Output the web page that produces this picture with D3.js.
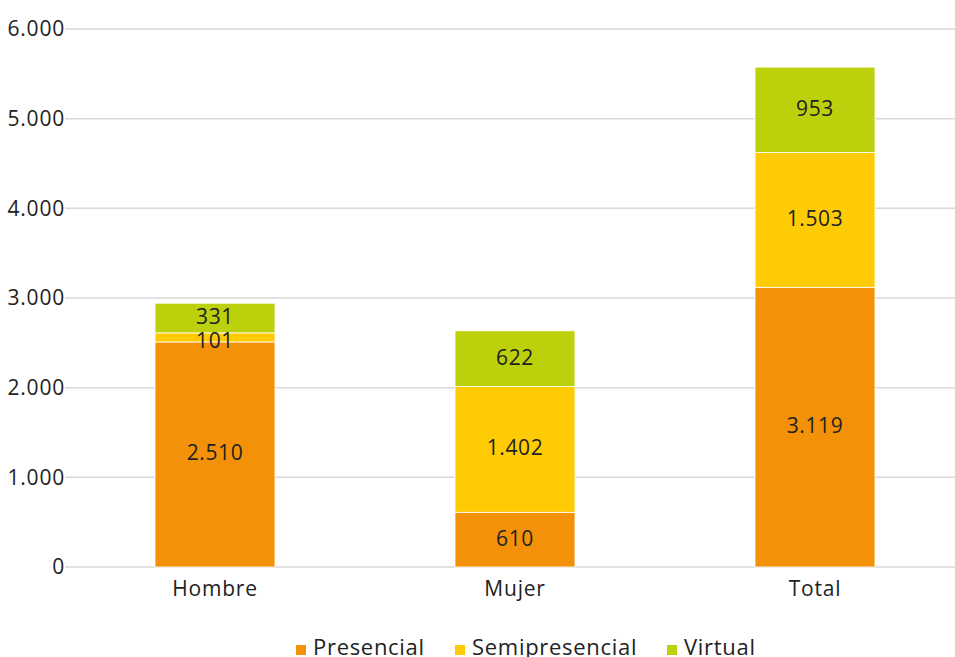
<!DOCTYPE html>
<html>
<head>
<meta charset="utf-8">
<script src="https://cdn.jsdelivr.net/npm/d3@7"></script>
<style>
  html, body { margin: 0; padding: 0; background: #fff; }
  svg { display: block; font-family: "Open Sans", "Noto Sans", sans-serif; }
</style>
</head>
<body>
<svg id="chart" width="955" height="657"></svg>
<script>
// Categories and stacked series (number of people by modality)
const categories = ["Hombre", "Mujer", "Total"];
const seriesNames = ["Presencial", "Semipresencial", "Virtual"];
const presencial = [2510, 610, 3119];
const semipresencial = [101, 1402, 1503];
const virtual = [331, 622, 953];
const yTicks = [0, 1000, 2000, 3000, 4000, 5000, 6000];
const colors = ["#F39208", "#FFCB05", "#BDD00C"];

const rows = categories.map((c, i) => ({
  category: c,
  Presencial: presencial[i],
  Semipresencial: semipresencial[i],
  Virtual: virtual[i]
}));

const svg = d3.select("#chart");
const fmt = d3.formatLocale({ decimal: ",", thousands: ".", grouping: [3], currency: ["", ""] }).format(",d");
const textColor = "#222222";

const x = d3.scaleBand().domain(categories).range([65, 965]).paddingInner(0.6).paddingOuter(0.3);
const y = d3.scaleLinear().domain([0, 6000]).range([567, 29]);

// Horizontal gridlines
svg.append("g")
  .selectAll("line")
  .data(yTicks)
  .join("line")
  .attr("x1", 65).attr("x2", 965)
  .attr("y1", d => y(d)).attr("y2", d => y(d))
  .attr("stroke", "#d9d9d9").attr("stroke-width", 1.5);

// Y axis labels
const yAxis = d3.axisLeft(y).tickValues(yTicks).tickFormat(fmt).tickSize(0).tickPadding(0);
const gy = svg.append("g").attr("transform", "translate(65,0)").call(yAxis);
gy.select(".domain").remove();
gy.selectAll("text")
  .attr("font-size", 21).attr("letter-spacing", 0.8)
  .attr("fill", textColor).attr("font-family", "Open Sans, sans-serif");

// Stacked bars
const stack = d3.stack().keys(seriesNames)(rows);
const layers = svg.append("g")
  .selectAll("g")
  .data(stack)
  .join("g")
  .attr("fill", (d, i) => colors[i]);

layers.selectAll("rect")
  .data(d => d)
  .join("rect")
  .attr("x", d => x(d.data.category))
  .attr("width", x.bandwidth())
  .attr("y", d => y(d[1]))
  .attr("height", d => y(d[0]) - y(d[1]))
  .attr("stroke", "#ffffff")
  .attr("stroke-width", 0.8);

// Value labels: centred in each segment, with labels in thin neighbouring
// segments pushed apart so they stay readable
const minGap = 24;
const labels = [];
categories.forEach((c, ci) => {
  let prevCenter = null; // centre of the label placed just above (processed top-down)
  for (let si = stack.length - 1; si >= 0; si--) {
    const seg = stack[si][ci];
    let cy = (y(seg[0]) + y(seg[1])) / 2 - 1.5;
    if (prevCenter !== null && cy - prevCenter < minGap) cy = prevCenter + minGap;
    prevCenter = cy;
    labels.push({ x: x(c) + x.bandwidth() / 2, y: cy, value: seg[1] - seg[0] });
  }
});

svg.append("g")
  .selectAll("text")
  .data(labels)
  .join("text")
  .attr("x", d => d.x)
  .attr("y", d => d.y)
  .attr("dy", "0.35em")
  .attr("text-anchor", "middle")
  .attr("font-size", 21)
  .attr("letter-spacing", 0.6)
  .attr("fill", textColor)
  .text(d => fmt(d.value));

// X axis category labels
const xAxis = d3.axisBottom(x).tickSize(0).tickPadding(14);
const gx = svg.append("g").attr("transform", `translate(0,${y(0)})`).call(xAxis);
gx.select(".domain").remove();
gx.selectAll("text")
  .attr("font-size", 21).attr("letter-spacing", 0.8)
  .attr("fill", textColor).attr("font-family", "Open Sans, sans-serif");

// Legend
const legendX = [296, 455, 667];
const legend = svg.append("g")
  .selectAll("g")
  .data(seriesNames)
  .join("g")
  .attr("transform", (d, i) => `translate(${legendX[i]},645)`);
legend.append("rect").attr("width", 10).attr("height", 10).attr("fill", (d, i) => colors[i]);
legend.append("text")
  .attr("x", 17).attr("y", 10)
  .attr("font-size", 22)
  .attr("letter-spacing", 0.7)
  .attr("fill", textColor)
  .text(d => d);
</script>
</body>
</html>
